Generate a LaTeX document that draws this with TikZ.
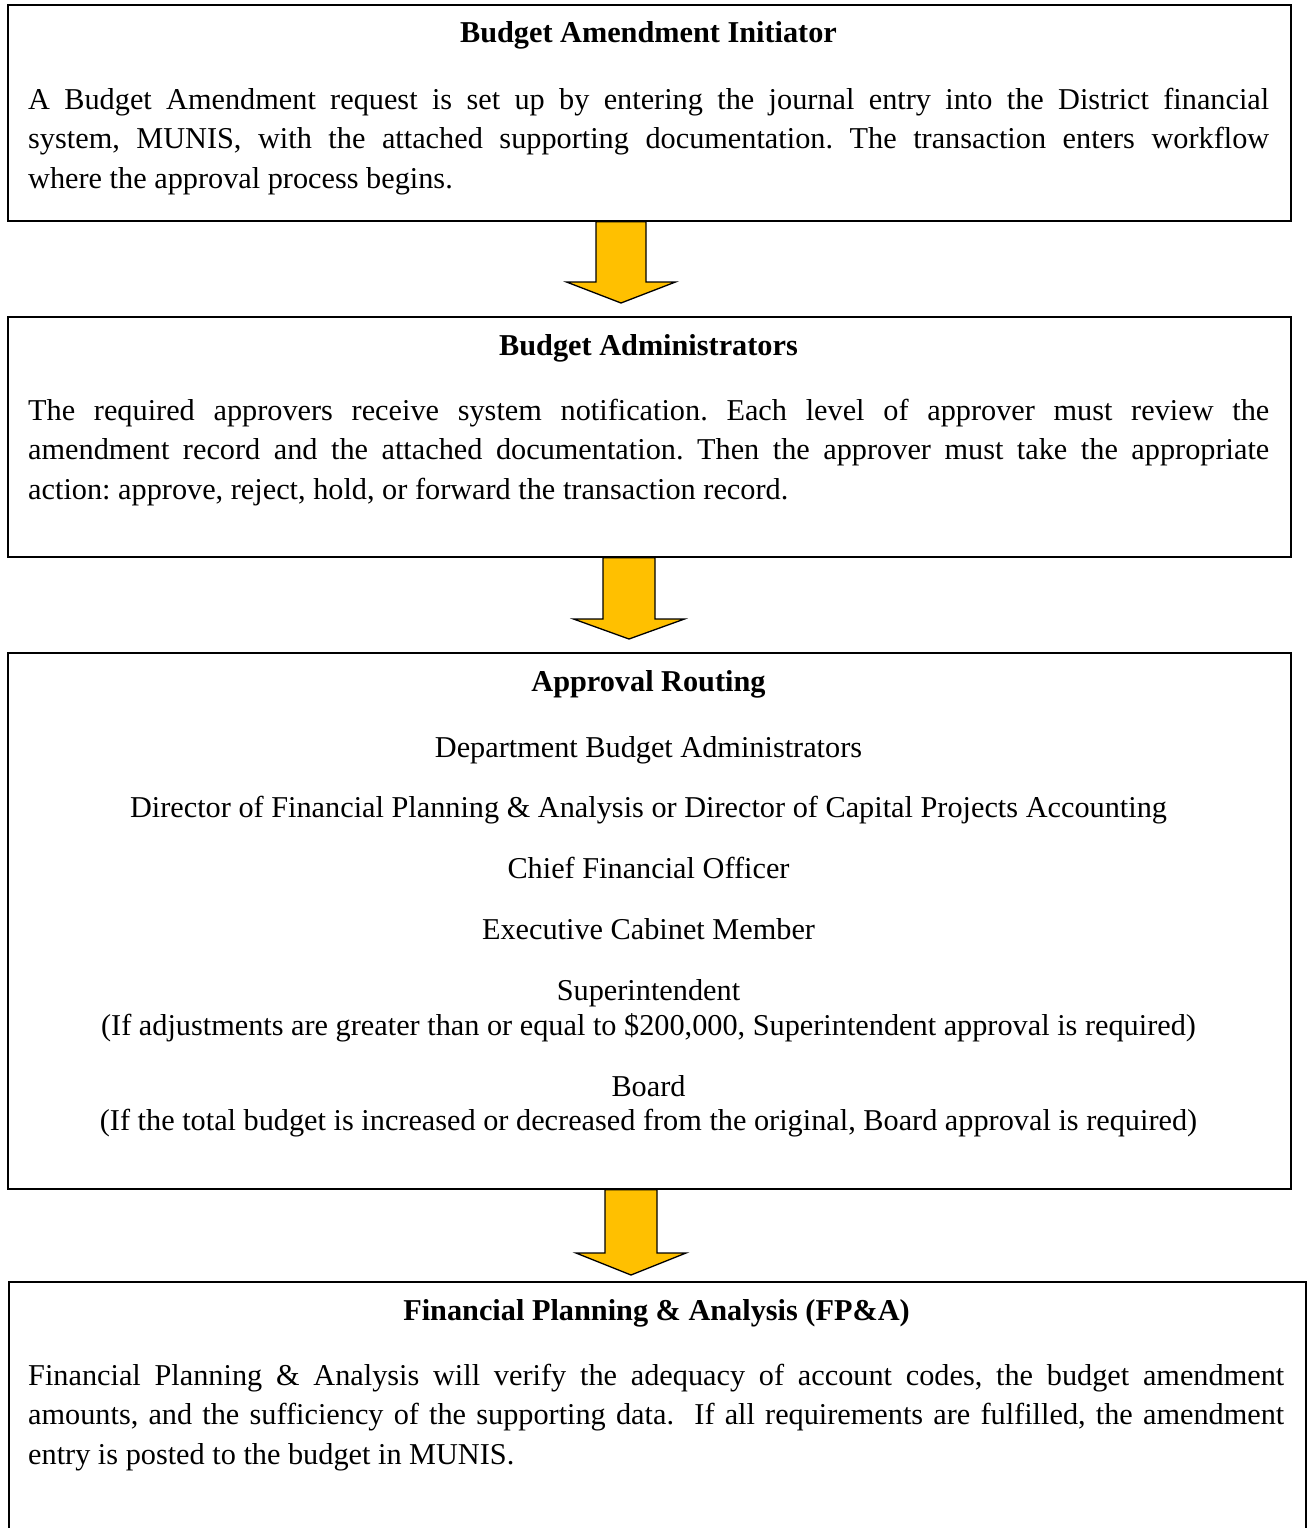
\documentclass[tikz,border=0pt]{standalone}
\usepackage{fontspec}
\setmainfont{Liberation Serif}
\usetikzlibrary{calc}
\definecolor{gold}{HTML}{FFC000}
\newlength\refw
\hbadness=10000 \hfuzz=20pt
\frenchspacing
\tikzset{
  boxsty/.style={draw=black, line width=1.8pt, rectangle, inner sep=0pt, anchor=north west},
  titlesty/.style={anchor=base, inner sep=0pt, font=\titlefont},
  linesty/.style={anchor=base, inner sep=0pt, font=\bodyfont},
  parsty/.style={anchor=base west, inner sep=0pt, font=\bodyfont},
  barrowsty/.style={draw=black, line width=1.3pt, fill=gold, line join=miter}
}
% block arrow: #1 from node, #2 to node, #3 centre x, #4 shaft half width,
% #5 head half width, #6 gap tip->next box, #7 gap head base->next box
\newcommand\blockarrow[7]{%
  \draw[barrowsty] let \p1=(#1.south), \p2=(#2.north) in
   (#3pt-#4pt,\y1) -- (#3pt+#4pt,\y1) -- (#3pt+#4pt,\y2+#7pt) -- (#3pt+#5pt,\y2+#7pt)
   -- (#3pt,\y2+#6pt) -- (#3pt-#5pt,\y2+#7pt) -- (#3pt-#4pt,\y2+#7pt) -- cycle;}
\newcommand\jline[2]{\makebox[#1pt][s]{#2}}
\begin{document}
\settowidth\refw{\fontsize{10pt}{12pt}\selectfont Director of Financial Planning \& Analysis or Director of Capital Projects Accounting}%
\edef\fsz{\fpeval{round(10*1037/\refw,2)}}%
\newcommand\bodyfont{\fontsize{\fsz pt}{39.5pt}\selectfont\frenchspacing}%
\newcommand\titlefont{\fontsize{\fsz pt}{39.5pt}\selectfont\bfseries}%
\begin{tikzpicture}[x=1pt,y=-1pt]
\useasboundingbox (0,0) rectangle (1308,1528);
\clip (0,0) rectangle (1308,1528);

% boxes
\node[boxsty, minimum width=1283pt, minimum height=216pt] (b1) at (7,4) {};
\node[boxsty, minimum width=1283pt, minimum height=240pt] (b2) at (7,316) {};
\node[boxsty, minimum width=1283pt, minimum height=536pt] (b3) at (7,652) {};
\node[boxsty, minimum width=1297pt, minimum height=320pt] (b4) at (8,1281) {};

% arrows
\blockarrow{b1}{b2}{621}{25}{54.5}{13}{34}
\blockarrow{b2}{b3}{629}{26}{55.5}{13}{33}
\blockarrow{b3}{b4}{631}{26}{55}{6}{28}

% box 1
\node[titlesty] (t1) at (648.5,43) {Budget Amendment Initiator};
\node[parsty] (p1) at (28,109) {\parbox[t]{1241pt}{\bodyfont
\jline{1241}{A Budget Amendment request is set up by entering the journal entry into the District financial}\par
\jline{1241}{system, MUNIS, with the attached supporting documentation. The transaction enters workflow}\par
where the approval process begins.}};

% box 2
\node[titlesty] (t2) at (648.5,355) {Budget Administrators};
\node[parsty] (p2) at (28,420) {\parbox[t]{1241pt}{\bodyfont
\jline{1241}{The required approvers receive system notification. Each level of approver must review the}\par
\jline{1241}{amendment record and the attached documentation. Then the approver must take the appropriate}\par
action: approve, reject, hold, or forward the transaction record.}};

% box 3
\node[titlesty] (t3) at (648.5,691) {Approval Routing};
\node[linesty] (r1) at (648.5,757) {Department Budget Administrators};
\node[linesty] (r2) at (648.5,817) {Director of Financial Planning \& Analysis or Director of Capital Projects Accounting};
\node[linesty] (r3) at (648.5,878) {Chief Financial Officer};
\node[linesty] (r4) at (648.5,939) {Executive Cabinet Member};
\node[linesty] (r5) at (648.5,1000) {Superintendent};
\node[linesty] (r5n) at (648.5,1035) {(If adjustments are greater than or equal to \$200,000, Superintendent approval is required)};
\node[linesty] (r6) at (648.5,1096) {Board};
\node[linesty] (r6n) at (648.5,1130) {(If the total budget is increased or decreased from the original, Board approval is required)};

% box 4
\node[titlesty] (t4) at (656.5,1320) {Financial Planning \& Analysis (FP\&A)};
\node[parsty] (p4) at (28,1385) {\parbox[t]{1256pt}{\bodyfont
\jline{1256}{Financial Planning \& Analysis will verify the adequacy of account codes, the budget amendment}\par
\jline{1256}{amounts, and the sufficiency of the supporting data.\ \ If all requirements are fulfilled, the amendment}\par
entry is posted to the budget in MUNIS.}};
\end{tikzpicture}
\end{document}
